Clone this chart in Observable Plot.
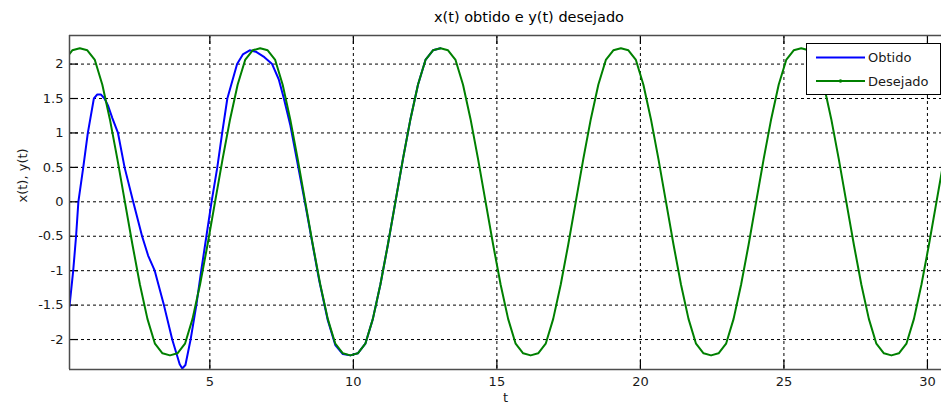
<!DOCTYPE html>
<html><head><meta charset="utf-8">
<script src="https://cdn.jsdelivr.net/npm/d3@7"></script>
<script src="https://cdn.jsdelivr.net/npm/@observablehq/plot@0.6"></script>
<style>
body{margin:0;background:#fff;font-family:"DejaVu Sans",sans-serif;}
#wrap{position:relative;width:941px;height:408px;overflow:hidden;background:#fff}
#title{position:absolute;left:329px;width:400px;top:9px;text-align:center;font-size:14.5px;line-height:17px;color:#000;white-space:nowrap}
#chart{position:absolute;left:0;top:30px}
#legend{position:absolute;left:806px;top:43px;width:133px;height:50px;border:1px solid #000;background:#fff}
#legend svg{display:block}
</style></head><body>
<div id="wrap"><div id="title">x(t) obtido e y(t) desejado</div><div id="chart"></div><div id="legend"></div></div>
<script>
// y(t) desejado
const tDesejado = [-0.054, 0.208,
0.470, 0.732, 0.994, 1.255, 1.517, 1.779, 2.041, 2.303, 2.564, 2.826, 3.088, 3.350, 3.612, 3.873, 4.135, 4.397, 4.659, 4.921, 5.182, 5.444, 5.706, 5.968, 6.230, 6.491,
6.753, 7.015, 7.277, 7.538, 7.800, 8.062, 8.324, 8.586, 8.847, 9.109, 9.371, 9.633, 9.895, 10.156, 10.418, 10.680, 10.942, 11.204, 11.465, 11.727, 11.989, 12.251, 12.513, 12.774,
13.036, 13.298, 13.560, 13.821, 14.083, 14.345, 14.607, 14.869, 15.130, 15.392, 15.654, 15.916, 16.178, 16.439, 16.701, 16.963, 17.225, 17.487, 17.748, 18.010, 18.272, 18.534, 18.796, 19.057,
19.320, 19.582, 19.844, 20.105, 20.367, 20.629, 20.891, 21.153, 21.414, 21.676, 21.938, 22.200, 22.462, 22.723, 22.985, 23.247, 23.509, 23.771, 24.032, 24.294, 24.556, 24.818, 25.080, 25.341,
25.603, 25.865, 26.127, 26.388, 26.650, 26.912, 27.174, 27.436, 27.697, 27.959, 28.221, 28.483, 28.745, 29.006, 29.268, 29.530, 29.792, 30.054, 30.315, 30.577];
const yDesejado = [2.06, 2.20,
2.23, 2.20, 2.06, 1.70, 1.20, 0.62, 0.00, -0.62, -1.20, -1.70, -2.06, -2.20, -2.23, -2.20, -2.06, -1.70, -1.20, -0.62, 0.00, 0.62, 1.20, 1.70, 2.06, 2.20,
2.23, 2.20, 2.06, 1.70, 1.20, 0.62, 0.00, -0.62, -1.20, -1.70, -2.06, -2.20, -2.23, -2.20, -2.06, -1.70, -1.20, -0.62, 0.00, 0.62, 1.20, 1.70, 2.06, 2.20,
2.23, 2.20, 2.06, 1.70, 1.20, 0.62, 0.00, -0.62, -1.20, -1.70, -2.06, -2.20, -2.23, -2.20, -2.06, -1.70, -1.20, -0.62, 0.00, 0.62, 1.20, 1.70, 2.06, 2.20,
2.23, 2.20, 2.06, 1.70, 1.20, 0.62, 0.00, -0.62, -1.20, -1.70, -2.06, -2.20, -2.23, -2.20, -2.06, -1.70, -1.20, -0.62, 0.00, 0.62, 1.20, 1.70, 2.06, 2.20,
2.23, 2.20, 2.06, 1.70, 1.20, 0.62, 0.00, -0.62, -1.20, -1.70, -2.06, -2.20, -2.23, -2.20, -2.06, -1.70, -1.20, -0.62, 0.00, 0.62];

// x(t) obtido (converges onto y(t) after t ≈ 9)
const tObtido = [0.11, 0.24, 0.34, 0.42, 0.59, 0.75, 0.96, 1.08, 1.20, 1.33, 1.45, 1.60, 1.80, 2.03, 2.33, 2.64, 2.85, 3.08, 3.40, 3.69, 3.85, 3.95, 4.04, 4.15, 4.33, 4.53, 4.70, 4.88, 5.06, 5.26, 5.43, 5.61, 5.95, 6.15, 6.39, 6.60, 6.90, 7.17, 7.40, 7.58, 7.80, 8.30, 8.80,
9.109, 9.371, 9.633, 9.895, 10.156, 10.418, 10.680, 10.942, 11.204, 11.465, 11.727, 11.989, 12.251, 12.513, 12.774, 13.036];
const xObtido = [-1.52, -1.00, -0.50, 0.00, 0.50, 1.00, 1.50, 1.56, 1.56, 1.50, 1.40, 1.22, 1.00, 0.50, 0.00, -0.50, -0.78, -1.00, -1.50, -2.00, -2.22, -2.36, -2.42, -2.37, -2.00, -1.50, -1.00, -0.50, 0.00, 0.50, 1.00, 1.50, 2.00, 2.14, 2.20, 2.18, 2.10, 2.00, 1.78, 1.50, 1.12, 0.02, -1.12,
-1.72, -2.08, -2.21, -2.23, -2.20, -2.06, -1.70, -1.20, -0.62, 0.00, 0.62, 1.20, 1.70, 2.06, 2.20, 2.23];

const xTicks = [5, 10, 15, 20, 25, 30];
const yTicks = [-2, -1.5, -1, -0.5, 0, 0.5, 1, 1.5, 2];
const xDomain = [0.111, 30.49];
const yDomain = [-2.435, 2.415];
const xLabel = "t";
const yLabel = "x(t), y(t)";
const seriesNames = ["Obtido", "Desejado"];
const seriesColors = ["#0000ff", "#008000"];

const obtido = tObtido.map((t, i) => ({t, v: xObtido[i]}));
const desejado = tDesejado.map((t, i) => ({t, v: yDesejado[i]}));

const W = 941, H = 378, mL = 69, mR = 0, mT = 5, mB = 39;
const frameH = H - mT - mB, frameW = W - mL - mR;
const tick = 9;

const chart = Plot.plot({
  width: W, height: H,
  marginLeft: mL, marginRight: mR, marginTop: mT, marginBottom: mB,
  style: {fontFamily: "DejaVu Sans, sans-serif", fontSize: "13px", color: "#1a1a1a", background: "#fff", overflow: "visible"},
  x: {domain: xDomain, ticks: xTicks, tickSize: 0, tickPadding: 7, tickFormat: d => String(d), label: null},
  y: {domain: yDomain, ticks: yTicks, tickSize: 0, tickPadding: 6, tickFormat: d => String(d), label: null},
  marks: [
    Plot.ruleX(xTicks, {x: d => d, stroke: "#000", strokeDasharray: "3,3", strokeWidth: 1}),
    Plot.ruleY(yTicks, {y: d => d, stroke: "#000", strokeDasharray: "3,3", strokeWidth: 1}),
    Plot.tickX(xTicks, {x: d => d, insetTop: frameH - tick, stroke: "#000", strokeWidth: 1.2}),
    Plot.tickX(xTicks, {x: d => d, insetBottom: frameH - tick, stroke: "#000", strokeWidth: 1.2}),
    Plot.tickY(yTicks, {y: d => d, insetRight: frameW - tick, stroke: "#000", strokeWidth: 1.2}),
    Plot.line(obtido, {x: "t", y: "v", stroke: seriesColors[0], strokeWidth: 2, clip: true}),
    Plot.line(desejado, {x: "t", y: "v", stroke: seriesColors[1], strokeWidth: 2, clip: true}),
    Plot.ruleY(yDomain, {y: d => d, stroke: "#4d4d4d", strokeWidth: 1.5}),
    Plot.ruleX([xDomain[0]], {x: d => d, stroke: "#4d4d4d", strokeWidth: 1.5}),
    Plot.text([yLabel], {text: d => d, frameAnchor: "left", dx: -47, rotate: -90, fontSize: 13, fill: "#1a1a1a"}),
    Plot.text([xLabel], {text: d => d, frameAnchor: "bottom", dy: 32, fontSize: 13, fill: "#1a1a1a"})
  ]
});
document.getElementById("chart").appendChild(chart);

// legend
const ns = "http://www.w3.org/2000/svg";
const lg = document.createElementNS(ns, "svg");
lg.setAttribute("width", 133); lg.setAttribute("height", 50);
seriesNames.forEach((name, i) => {
  const cy = 13.5 + i * 23.5;
  const ln = document.createElementNS(ns, "line");
  ln.setAttribute("x1", 9); ln.setAttribute("x2", 58); ln.setAttribute("y1", cy); ln.setAttribute("y2", cy);
  ln.setAttribute("stroke", seriesColors[i]); ln.setAttribute("stroke-width", 2);
  lg.appendChild(ln);
  if (i === 1) {
    const c = document.createElementNS(ns, "circle");
    c.setAttribute("cx", 33.5); c.setAttribute("cy", cy); c.setAttribute("r", 1.8);
    c.setAttribute("fill", seriesColors[i]);
    lg.appendChild(c);
  }
  const tx = document.createElementNS(ns, "text");
  tx.setAttribute("x", 61); tx.setAttribute("y", cy + 4.5);
  tx.setAttribute("font-family", "DejaVu Sans, sans-serif"); tx.setAttribute("font-size", 13);
  tx.setAttribute("fill", "#1a1a1a");
  tx.textContent = name;
  lg.appendChild(tx);
});
document.getElementById("legend").appendChild(lg);
</script>
</body></html>
